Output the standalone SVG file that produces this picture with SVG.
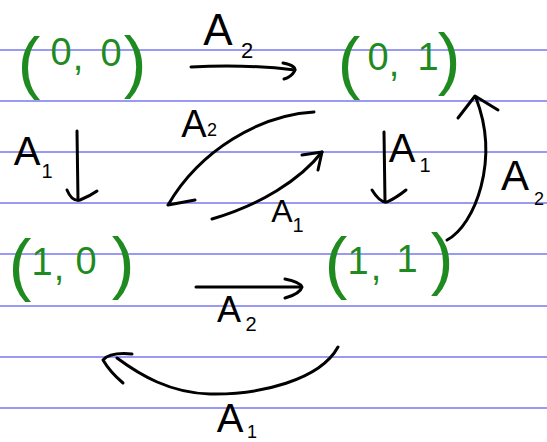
<svg xmlns="http://www.w3.org/2000/svg" width="547" height="442" viewBox="0 0 547 442">
<style>
.rule{stroke:#9a9af5;stroke-width:2}
.node{fill:#1f8a1f;font-family:"Liberation Sans",Arial,sans-serif;text-anchor:middle}
.par{font-size:68px}
.dig{font-size:38px}
.lab{fill:#000;font-family:"Liberation Sans",Arial,sans-serif;text-anchor:middle}
.c{fill:none;stroke:#000;stroke-width:3;stroke-linecap:round;stroke-linejoin:round}
</style>
<rect width="547" height="442" fill="#fff"/>
<g id="paper">
<line class="rule" x1="0" y1="50" x2="547" y2="50"/>
<line class="rule" x1="0" y1="101" x2="547" y2="101"/>
<line class="rule" x1="0" y1="152" x2="547" y2="152"/>
<line class="rule" x1="0" y1="203" x2="547" y2="203"/>
<line class="rule" x1="0" y1="254" x2="547" y2="254"/>
<line class="rule" x1="0" y1="306" x2="547" y2="306"/>
<line class="rule" x1="0" y1="357" x2="547" y2="357"/>
<line class="rule" x1="0" y1="408" x2="547" y2="408"/>
</g>
<g id="n00"><text class="node"><tspan class="par" x="29" y="86">(</tspan><tspan class="dig" x="61" y="65">0</tspan><tspan class="dig" x="78" y="70">,</tspan><tspan class="dig" x="111" y="66">0</tspan><tspan class="par" x="135" y="85">)</tspan></text></g>
<g id="n01"><text class="node"><tspan class="par" x="349" y="86">(</tspan><tspan class="dig" x="378" y="70">0</tspan><tspan class="dig" x="394" y="76">,</tspan><tspan class="dig" x="428" y="70">1</tspan><tspan class="par" x="449" y="82">)</tspan></text></g>
<g id="n10"><text class="node"><tspan class="par" x="20" y="288">(</tspan><tspan class="dig" x="42" y="275">1</tspan><tspan class="dig" x="59" y="280">,</tspan><tspan class="dig" x="86" y="274">0</tspan><tspan class="par" x="123" y="286">)</tspan></text></g>
<g id="n11"><text class="node"><tspan class="par" x="336" y="286">(</tspan><tspan class="dig" x="358" y="274">1</tspan><tspan class="dig" x="376" y="280">,</tspan><tspan class="dig" x="407" y="272">1</tspan><tspan class="par" x="442" y="282">)</tspan></text></g>
<g id="connectors">
<path class="c" d="M191,67 Q245,64 295,70"/>
<path class="c" d="M283,63 Q298,66 294,72 Q291,77 284,79"/>
<path class="c" d="M77,131 L78,200"/>
<path class="c" d="M67,190 Q72,202 80,200 Q90,196 97,191"/>
<path class="c" d="M314,112 C260,115 200,150 168,205 L195,200"/>
<path class="c" d="M212,219 C260,205 300,180 322,152"/>
<path class="c" d="M302,155 L322,152 L318,170"/>
<path class="c" d="M384,132 L385,202"/>
<path class="c" d="M372,190 Q380,203 387,202 Q396,198 406,190"/>
<path class="c" d="M447,240 C475,225 500,160 476,98"/>
<path class="c" d="M458,118 L475,96 L498,110"/>
<path class="c" d="M196,287 L300,287"/>
<path class="c" d="M285,279 Q300,282 302,287 Q300,294 285,298"/>
<path class="c" d="M338,347 C320,380 260,395 210,394 C170,393 140,375 117,358"/>
<path class="c" d="M132,354 Q110,352 103,360 Q110,372 123,383"/>
</g>
<g id="labels">
<text class="lab"><tspan x="218" y="45" font-size="44">A</tspan><tspan x="247" y="58" font-size="22">2</tspan></text>
<text class="lab"><tspan x="194" y="137" font-size="38">A</tspan><tspan x="212" y="136" font-size="18">2</tspan></text>
<text class="lab"><tspan x="27" y="165" font-size="40">A</tspan><tspan x="47" y="178" font-size="20">1</tspan></text>
<text class="lab"><tspan x="282" y="222" font-size="32">A</tspan><tspan x="298" y="232" font-size="20">1</tspan></text>
<text class="lab"><tspan x="402" y="162" font-size="40">A</tspan><tspan x="425" y="172" font-size="20">1</tspan></text>
<text class="lab"><tspan x="515" y="190" font-size="42">A</tspan><tspan x="539" y="205" font-size="18">2</tspan></text>
<text class="lab"><tspan x="229" y="322" font-size="36">A</tspan><tspan x="251" y="331" font-size="20">2</tspan></text>
<text class="lab"><tspan x="230" y="432" font-size="40">A</tspan><tspan x="252" y="438" font-size="18">1</tspan></text>
</g>
</svg>
